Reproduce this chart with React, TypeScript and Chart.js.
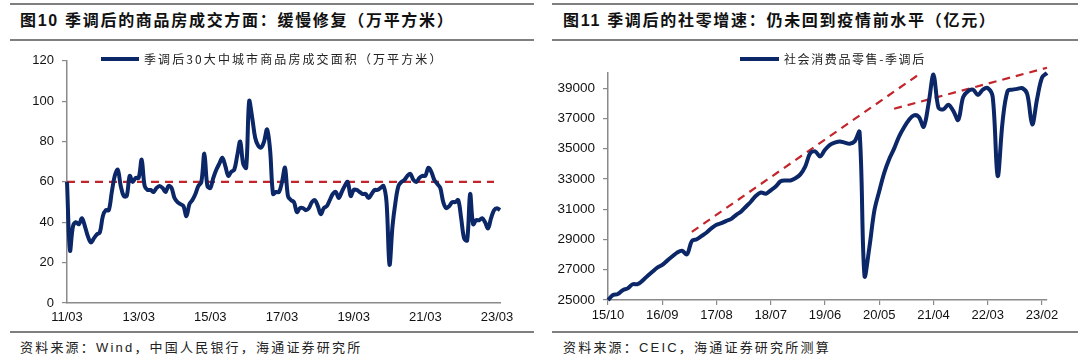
import React, { useEffect, useRef } from 'react';
import { Chart, registerables } from 'chart.js';

Chart.register(...registerables);

// ---------- Data: Figure 10 (monthly, from 2011-03) ----------
const houseStartYear = 2011;
const houseStartMonth = 3;
const houseValues: number[] = [
  60, 26, 38, 40, 39, 42, 38, 33, 30, 32, 34, 35, 43, 46, 46, 55, 63, 66, 58, 53,
  53, 63, 60, 62, 62, 71, 58, 56, 56, 55, 57, 58, 57, 55, 58, 57, 52, 50, 49, 48,
  43, 49, 51, 54, 58, 60, 74, 58, 57, 62, 66, 69, 72, 68, 63, 65, 66, 73, 80, 69,
  67, 100, 92, 82, 78, 77, 80, 86, 76, 54, 55, 55, 60, 67, 53, 51, 50, 45, 47, 47,
  46, 47, 50, 51, 48, 44, 47, 48, 51, 54, 55, 52, 55, 58, 60, 53, 56, 56, 55, 54,
  54, 52, 54, 56, 56, 57, 58, 50, 19, 38, 50, 58, 60, 61, 63, 64, 61, 60, 62, 63,
  63, 67, 65, 61, 59, 57, 50, 47, 48, 50, 50, 51, 42, 32, 31, 54, 39, 41, 41, 42,
  40, 37, 42, 46, 47, 46,
];
const houseRefLevel = 60;
const houseRefFrom = '11/03';
const houseRefTo = '23/02';
const houseTickEvery = 24;
const houseYTicks = [0, 20, 40, 60, 80, 100, 120];
const houseLegend = '季调后30大中城市商品房成交面积（万平方米）';

// ---------- Data: Figure 11 (monthly, from 2015-10) ----------
const retailStartYear = 2015;
const retailStartMonth = 10;
const retailValues: number[] = [
  25000, 25330, 25400, 25650, 25770, 26040, 26050, 26280, 26590, 26870,
  27140, 27320, 27600, 27870, 28130, 28260, 28020, 28900, 29020, 29240,
  29460, 29750, 29970, 30080, 30230, 30360, 30630, 30850, 31180, 31510,
  31890, 32100, 32020, 32250, 32500, 32850, 32900, 32900, 33050, 33300,
  33830, 34700, 34820, 34490, 34930, 35250, 35400, 35480, 35400, 35330,
  35480, 36100, 26600, 28500, 30900, 32200, 33400, 34300, 35000, 35800,
  36400, 36900, 37200, 37100, 36450, 38000, 39900, 37700, 37600, 37900,
  37500, 36900, 38400, 38800, 38900, 38550, 38900, 39000, 38400, 33200,
  36800, 38800, 38900, 38950, 39000, 38600, 36600, 38300, 39700, 40000,
];
const retailTrend1 = [
  { x: '17/03', y: 29500 },
  { x: '21/01', y: 39900 },
];
const retailTrend2 = [
  { x: '20/08', y: 37640 },
  { x: '23/03', y: 40350 },
];
const retailTickEvery = 11;
const retailYTicks = [25000, 27000, 29000, 31000, 33000, 35000, 37000, 39000];
const retailYMax = 40000;
const retailLegend = '社会消费品零售-季调后';

const title10 = '图10 季调后的商品房成交方面：缓慢修复（万平方米）';
const title11 = '图11 季调后的社零增速：仍未回到疫情前水平（亿元）';
const source10 = '资料来源：Wind，中国人民银行，海通证券研究所';
const source11 = '资料来源：CEIC，海通证券研究所测算';

// ---------- helpers ----------
function monthLabels(y0: number, m0: number, n: number): string[] {
  const out: string[] = [];
  for (let i = 0; i < n; i++) {
    const t = m0 - 1 + i;
    const y = y0 + Math.floor(t / 12);
    const m = (t % 12) + 1;
    out.push(`${String(y % 100).padStart(2, '0')}/${String(m).padStart(2, '0')}`);
  }
  return out;
}

const NAVY = '#0b2767';
const RED = '#c3252c';
const AXIS = '#8a8a8a';
const TICKFONT = { family: "'Liberation Sans', Arial, sans-serif", size: 13 };
const CJK = "'Liberation Sans', 'Noto Sans CJK SC', sans-serif";

function legendPlugin(x1: number, x2: number, y: number, text: string, size: number, spacing: number) {
  return {
    id: 'customLegend',
    afterDraw(chart: any) {
      const ctx = chart.ctx as CanvasRenderingContext2D;
      ctx.save();
      ctx.strokeStyle = NAVY;
      ctx.lineWidth = 4;
      ctx.lineCap = 'butt';
      ctx.beginPath();
      ctx.moveTo(x1, y);
      ctx.lineTo(x2, y);
      ctx.stroke();
      ctx.fillStyle = '#222';
      ctx.font = `${size}px 'Noto Sans CJK SC', sans-serif`;
      ctx.textBaseline = 'middle';
      ctx.textAlign = 'left';
      try { (ctx as any).letterSpacing = `${spacing}px`; } catch (e) {}
      ctx.fillText(text, x2 + 5, y);
      try { (ctx as any).letterSpacing = '0px'; } catch (e) {}
      ctx.restore();
    },
  };
}

function HouseChart() {
  const ref = useRef<HTMLCanvasElement>(null);
  useEffect(() => {
    const labels = monthLabels(houseStartYear, houseStartMonth, houseValues.length);
    const chart = new Chart(ref.current!, {
      type: 'line',
      data: {
        labels,
        datasets: [
          {
            data: houseValues,
            borderColor: NAVY,
            borderWidth: 4,
            pointRadius: 0,
            tension: 0.35,
            fill: false,
          },
          {
            data: [
              { x: houseRefFrom, y: houseRefLevel },
              { x: houseRefTo, y: houseRefLevel },
            ] as any,
            borderColor: RED,
            borderWidth: 2.2,
            borderDash: [8, 6],
            pointRadius: 0,
            fill: false,
            spanGaps: true,
          },
        ],
      },
      options: {
        animation: false,
        responsive: false,
        maintainAspectRatio: false,
        layout: { padding: { left: 0, right: 35, top: 12, bottom: 0 } },
        plugins: { legend: { display: false }, tooltip: { enabled: false } },
        scales: {
          x: {
            type: 'category',
            offset: false,
            grid: { display: false, drawTicks: false },
            border: { display: true, color: AXIS, width: 1.5 },
            ticks: {
              autoSkip: false,
              maxRotation: 0,
              padding: 7,
              color: '#111',
              font: TICKFONT,
              callback: function (this: any, v: any) {
                return this.getLabelForValue(v);
              },
            },
            afterBuildTicks: (s: any) => {
              s.ticks = s.ticks.filter((t: any) => t.value % houseTickEvery === 0);
            },
            afterFit: (s: any) => {
              s.height = 29;
            },
          },
          y: {
            min: 0,
            max: 120,
            grid: { drawOnChartArea: false, drawTicks: true, tickLength: 5, color: AXIS, lineWidth: 1.2 },
            border: { display: true, color: AXIS, width: 1.5 },
            ticks: { padding: 8, color: '#111', font: TICKFONT, callback: (v: any) => String(v) },
            afterBuildTicks: (s: any) => {
              s.ticks = houseYTicks.map((v) => ({ value: v }));
            },
            afterFit: (s: any) => {
              s.width = 67;
            },
          },
        },
      },
      plugins: [legendPlugin(101, 139, 14, houseLegend, 12, 2.1)],
    } as any);
    return () => chart.destroy();
  }, []);
  return <canvas ref={ref} width={535} height={287} style={{ position: 'absolute', left: 0, top: 45, width: 535, height: 287 }} />;
}

function RetailChart() {
  const ref = useRef<HTMLCanvasElement>(null);
  useEffect(() => {
    const labels = monthLabels(retailStartYear, retailStartMonth, retailValues.length);
    const dashed = {
      borderColor: RED,
      borderWidth: 2.2,
      borderDash: [8, 6],
      pointRadius: 0,
      fill: false,
      spanGaps: true,
      clip: false,
    };
    const chart = new Chart(ref.current!, {
      type: 'line',
      data: {
        labels,
        datasets: [
          {
            data: retailValues,
            borderColor: NAVY,
            borderWidth: 4,
            pointRadius: 0,
            tension: 0.35,
            fill: false,
            clip: false,
          },
          { ...dashed, data: retailTrend1 as any },
          { ...dashed, data: retailTrend2 as any },
        ],
      },
      options: {
        animation: false,
        responsive: false,
        maintainAspectRatio: false,
        layout: { padding: { left: 0, right: 33, top: 28, bottom: 0 } },
        plugins: { legend: { display: false }, tooltip: { enabled: false } },
        scales: {
          x: {
            type: 'category',
            offset: false,
            grid: { display: true, drawOnChartArea: false, drawTicks: true, tickLength: 5, color: AXIS, lineWidth: 1.2 },
            border: { display: true, color: AXIS, width: 1.5 },
            ticks: {
              autoSkip: false,
              maxRotation: 0,
              padding: 3,
              color: '#111',
              font: TICKFONT,
              callback: function (this: any, v: any) {
                return this.getLabelForValue(v);
              },
            },
            afterBuildTicks: (s: any) => {
              s.ticks = s.ticks.filter((t: any) => t.value % retailTickEvery === 0);
            },
            afterFit: (s: any) => {
              s.height = 32;
            },
          },
          y: {
            min: retailYTicks[0],
            max: retailYMax,
            grid: { drawOnChartArea: false, drawTicks: true, tickLength: 5, color: AXIS, lineWidth: 1.2 },
            border: { display: true, color: AXIS, width: 1.5 },
            ticks: {
              padding: 8,
              color: '#111',
              font: { ...TICKFONT, size: 13.5 },
              callback: (v: any) => String(v),
            },
            afterBuildTicks: (s: any) => {
              s.ticks = retailYTicks.map((v) => ({ value: v }));
            },
            afterFit: (s: any) => {
              s.width = 68;
            },
          },
        },
      },
      plugins: [legendPlugin(200, 239, 14, retailLegend, 12, 1.6)],
    } as any);
    return () => chart.destroy();
  }, []);
  return <canvas ref={ref} width={540} height={287} style={{ position: 'absolute', left: 540, top: 45, width: 540, height: 287 }} />;
}

const rule = (left: number, top: number, width: number, h = 2): React.CSSProperties => ({
  position: 'absolute',
  left,
  top,
  width,
  height: h,
  background: '#7f7f7f',
});

export default function App() {
  const titleStyle = (left: number): React.CSSProperties => ({
    position: 'absolute',
    left,
    top: 9,
    fontFamily: CJK,
    fontWeight: 700,
    fontSize: 16,
    letterSpacing: '1.7px',
    lineHeight: '24px',
    color: '#111',
    whiteSpace: 'nowrap',
  });
  const sourceStyle = (left: number): React.CSSProperties => ({
    position: 'absolute',
    left,
    top: 338,
    fontFamily: CJK,
    fontSize: 13,
    letterSpacing: '2.2px',
    lineHeight: '20px',
    color: '#222',
    whiteSpace: 'nowrap',
  });
  return (
    <div style={{ position: 'absolute', left: 0, top: 0, width: 1080, height: 361, background: '#fff', overflow: 'hidden' }}>
      <div style={rule(10, 3, 524)} />
      <div style={rule(552, 3, 526)} />
      <div style={titleStyle(20)}>{title10}</div>
      <div style={titleStyle(563)}>{title11}</div>
      <div style={rule(10, 39, 524)} />
      <div style={rule(552, 39, 526)} />
      <HouseChart />
      <RetailChart />
      <div style={rule(10, 331, 524)} />
      <div style={rule(552, 331, 526)} />
      <div style={sourceStyle(20)}>{source10}</div>
      <div style={sourceStyle(563)}>{source11}</div>
    </div>
  );
}
